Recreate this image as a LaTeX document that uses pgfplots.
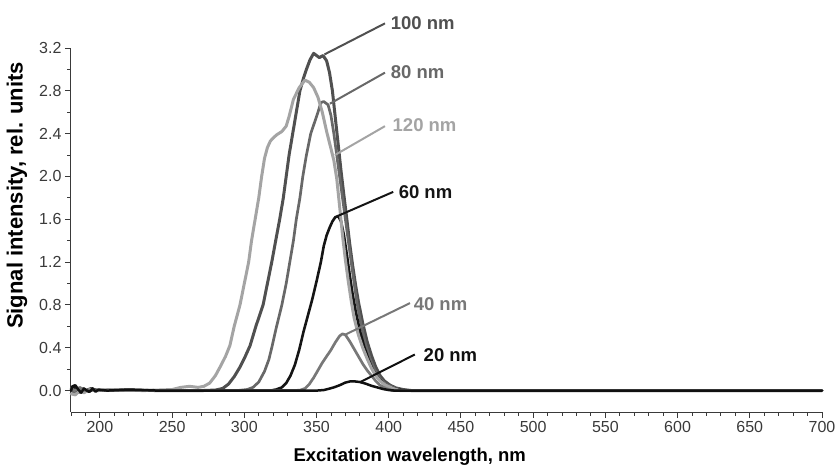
\documentclass[border=0pt]{standalone}
\usepackage{fontspec}
\setmainfont{Liberation Sans}
\usepackage{pgfplots}
\pgfplotsset{compat=1.18}

\definecolor{c100}{HTML}{505050}
\definecolor{c80}{HTML}{686868}
\definecolor{c120}{HTML}{A4A4A4}
\definecolor{c60}{HTML}{151515}
\definecolor{c40}{HTML}{787878}
\definecolor{c20}{HTML}{101010}
\definecolor{axgray}{HTML}{3A3A3A}
\newcommand{\tickfont}{\fontsize{16}{19}\selectfont}

\begin{document}
\begin{tikzpicture}
\begin{axis}[
  width=751pt, height=364pt, scale only axis,
  xmin=180, xmax=700, ymin=-0.2, ymax=3.2,
  axis lines=left, axis line style={-, axgray, line width=1pt},
  tick align=outside,
  major tick length=6pt, minor tick length=3.5pt,
  every tick/.style={axgray, line width=0.9pt},
  xtick={200,250,...,700}, minor x tick num=4,
  extra x ticks={180,190}, extra x tick labels={},
  extra x tick style={major tick length=3.5pt},
  ytick={0,0.4,...,3.2}, minor y tick num=1,
  xticklabel={\tickfont\pgfmathprintnumber[assume math mode=true]{\tick}},
  yticklabel={\tickfont\pgfmathprintnumber[assume math mode=true,fixed,fixed zerofill,precision=1]{\tick}},
  tick label style={text=axgray},
  xlabel={\textbf{Excitation wavelength, nm}},
  ylabel={\textbf{Signal intensity, rel. units}},
  xlabel style={font=\fontsize{18.5}{22}\selectfont, at={(axis description cs:0.451,-0.136)}, anchor=base},
  ylabel style={font=\fontsize{22}{26}\selectfont, at={(axis description cs:-0.072,0.595)}, anchor=center},
  clip=false,
  every axis plot/.append style={line join=round, line cap=round},
]
% 100 nm
\addplot[c100, line width=3pt] coordinates {
(180,0.01)(182,0.04)(184,-0.01)(187,0.02)(190,0.0)(194,0.02)(198,0.0)(210,0.01)(240,0.0)(270,0.0)
(280,0.005)(285,0.02)(289,0.06)(293,0.13)(297,0.22)(300,0.3)(304,0.42)(308,0.6)(313,0.8)(316,1.0)(319,1.2)(322,1.42)(324.5,1.6)(327,1.8)(329,2.0)(331,2.2)(333.5,2.4)(336,2.6)(338.5,2.8)(341,2.92)(343,3.0)(345.5,3.09)(348,3.15)(350,3.13)(352,3.11)(354.5,3.13)(357,3.08)(359,2.97)(361,2.8)(363,2.55)(365,2.3)(367,2.05)(369,1.82)(371,1.6)(373,1.37)(375,1.17)(377,0.99)(379,0.83)(382,0.63)(385,0.46)(388,0.33)(391,0.22)(394,0.14)(397,0.09)(401,0.05)(405,0.025)(410,0.01)(416,0.0)(450,0.0)(700,0.0)};
% 80 nm
\addplot[c80, line width=2.7pt] coordinates {
(180,0.0)(183,-0.02)(186,0.02)(189,-0.01)(193,0.01)(197,0.0)(220,0.0)(260,0.0)(295,0.0)
(302,0.01)(306,0.03)(310,0.08)(314,0.18)(317,0.29)(319,0.4)(322,0.58)(326,0.8)(329,1.0)(331.5,1.2)(334,1.4)(336,1.6)(338.5,1.8)(340.5,2.0)(343,2.2)(346,2.4)(349,2.52)(351,2.6)(353,2.69)(355,2.70)(358,2.67)(360,2.57)(362,2.4)(364,2.2)(366,2.0)(368,1.8)(370,1.6)(372,1.4)(374,1.2)(376,1.01)(378,0.82)(381,0.61)(384,0.43)(387,0.3)(390,0.2)(394,0.11)(398,0.06)(403,0.03)(408,0.01)(413,0.0)(450,0.0)(700,0.0)};
% 60 nm
\addplot[c60, line width=2.6pt] coordinates {
(180,0.0)(182,0.03)(185,-0.02)(188,0.01)(192,-0.01)(196,0.01)(200,0.0)(240,0.0)(300,0.0)(318,0.0)
(322,0.01)(326,0.03)(329,0.07)(332,0.14)(335,0.24)(338,0.38)(341,0.55)(344,0.7)(347,0.85)(350,1.02)(353,1.2)(355,1.35)(357,1.45)(359,1.52)(361,1.58)(363,1.62)(365,1.63)(367,1.58)(369,1.45)(371,1.27)(373,1.08)(375,0.9)(377,0.75)(380,0.56)(383,0.41)(386,0.29)(389,0.19)(393,0.11)(397,0.06)(401,0.03)(407,0.01)(412,0.0)(450,0.0)(700,0.0)};
% 120 nm
\addplot[c120, line width=3pt] coordinates {
(180,-0.03)(183,-0.04)(186,0.0)(189,-0.02)(193,0.01)(197,0.0)(210,0.01)(230,0.0)(250,0.01)(256,0.03)(262,0.04)(268,0.03)
(272,0.04)(276,0.07)(280,0.14)(284,0.24)(287,0.32)(290,0.42)(293,0.6)(297,0.8)(300,1.0)(303,1.2)(305,1.4)(307.5,1.6)(310,1.8)(312,2.0)(314,2.17)(316,2.27)(318,2.33)(320,2.36)(322.5,2.39)(326,2.42)(329,2.47)(331,2.56)(334,2.72)(338,2.83)(342,2.90)(345,2.88)(348,2.83)(351,2.74)(354,2.6)(357,2.42)(360,2.26)(362,2.15)(364,1.98)(366,1.72)(368,1.45)(370,1.22)(372,1.02)(374,0.84)(376,0.68)(379,0.52)(382,0.4)(385,0.3)(388,0.21)(391,0.14)(394,0.09)(398,0.05)(403,0.02)(408,0.0)(450,0.0)(700,0.0)};
% 40 nm
\addplot[c40, line width=2.7pt] coordinates {
(180,0.02)(183,0.0)(186,0.03)(190,0.0)(195,0.01)(200,0.0)(260,0.0)(335,0.0)
(339,0.005)(342,0.02)(345,0.06)(348,0.12)(351,0.19)(354,0.26)(357,0.32)(360,0.38)(363,0.45)(366,0.51)(368,0.53)(370,0.52)(373,0.46)(376,0.39)(379,0.32)(382,0.25)(385,0.19)(388,0.14)(391,0.09)(394,0.05)(398,0.02)(403,0.0)(450,0.0)(700,0.0)};
% 20 nm
\addplot[c20, line width=2.5pt] coordinates {
(180,0.0)(181,0.04)(183,0.05)(185,0.01)(187,-0.02)(189,0.02)(191,0.0)(193,-0.01)(195,0.02)(197,-0.01)(199,0.01)(205,0.0)(220,0.01)(240,0.0)(300,0.0)(350,0.0)
(355,0.005)(358,0.015)(362,0.03)(366,0.05)(370,0.075)(373,0.085)(377,0.085)(380,0.08)(384,0.065)(388,0.045)(392,0.03)(396,0.015)(400,0.005)(404,0.0)(450,0.0)(700,0.0)};

% pointers and labels
\draw[c100, line width=2pt] (axis cs:355.5,3.14) -- (axis cs:397.4,3.43);
\draw[c80, line width=2pt] (axis cs:359.3,2.68) -- (axis cs:397.4,2.97);
\draw[c120, line width=2pt] (axis cs:362.7,2.2) -- (axis cs:397.4,2.47);
\draw[c60, line width=2pt] (axis cs:364.5,1.63) -- (axis cs:403.1,1.856);
\draw[c40, line width=2pt] (axis cs:369.5,0.52) -- (axis cs:414.7,0.817);
\draw[c20, line width=2pt] (axis cs:380,0.078) -- (axis cs:418.1,0.337);
\begin{scope}[every node/.style={anchor=west, inner sep=0pt, font=\fontsize{18.5}{22}\selectfont\bfseries}]
\node[text=c100] at (axis cs:401.3,3.434) {100 nm};
\node[text=c80] at (axis cs:401.3,2.97) {80 nm};
\node[text=c120] at (axis cs:402.6,2.475) {120 nm};
\node[text=c60] at (axis cs:406.8,1.856) {60 nm};
\node[text=c40] at (axis cs:417.2,0.81) {40 nm};
\node[text=c20] at (axis cs:424.1,0.327) {20 nm};
\end{scope}
\end{axis}
\pgfresetboundingbox
\path[use as bounding box] ([shift={(-71pt,-52pt)}]current axis.south west) rectangle ([shift={(17pt,48pt)}]current axis.north east);
\end{tikzpicture}
\end{document}
